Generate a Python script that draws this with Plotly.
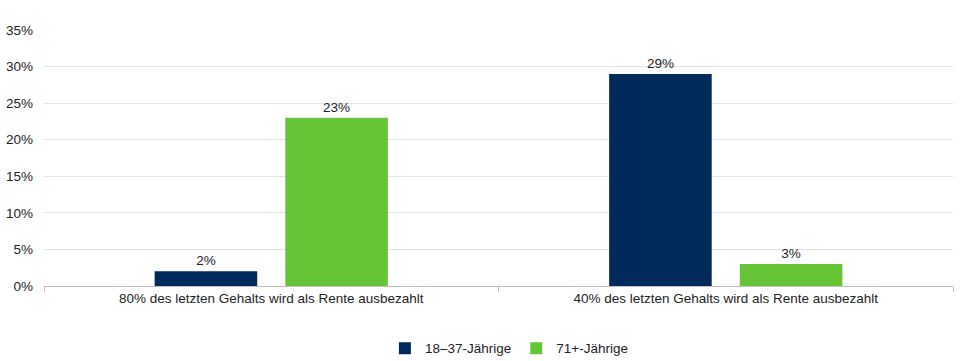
import plotly.graph_objects as go

categories = ["80% des letzten Gehalts wird als Rente ausbezahlt",
              "40% des letzten Gehalts wird als Rente ausbezahlt"]
series_names = ["18–37-Jährige", "71+-Jährige"]
young = [2, 29]
old = [23, 3]
colors = ["#002A5C", "#66C536"]
tick_vals = [0, 5, 10, 15, 20, 25, 30, 35]
tick_text = ["0%", "5%", "10%", "15%", "20%", "25%", "30%", "35%"]

fig = go.Figure()
for name, vals, col in zip(series_names, [young, old], colors):
    fig.add_trace(go.Bar(
        x=categories, y=vals, name=name, marker=dict(color=col, line=dict(width=0)),
        text=[f"{v}%" for v in vals], textposition="outside",
        textfont=dict(size=13.5, color="#222"), cliponaxis=False,
    ))

fig.update_layout(
    width=960, height=361,
    margin=dict(l=44, r=7, t=30, b=75, autoexpand=False),
    paper_bgcolor="white", plot_bgcolor="white",
    font=dict(family="Liberation Sans, Arial, sans-serif", size=13.5, color="#222"),
    barmode="group", bargap=0.425, bargroupgap=0.215,
    showlegend=True,
    legend=dict(orientation="h", x=0.512, xanchor="center", yref="container",
                y=0.035, yanchor="middle",
                font=dict(size=13.5, color="#222"), itemwidth=30),
    xaxis=dict(type="category", showgrid=False, showline=True, linecolor="#BFBFBF",
               linewidth=1, ticks="outside", tickson="boundaries", ticklen=5,
               tickcolor="#BFBFBF", tickfont=dict(size=13.5, color="#222"),
               automargin=False),
    yaxis=dict(range=[0, 35], tickvals=tick_vals, ticktext=tick_text,
               showgrid=True, gridcolor="#E3E3E3", gridwidth=1, zeroline=False,
               showline=False, ticks="", ticklabelstandoff=10, automargin=False,
               tickfont=dict(size=13.5, color="#222")),
)
fig.write_html("out.html", config={"displayModeBar": False},
               post_script="document.body.style.margin='0';document.body.style.overflow='hidden';")
